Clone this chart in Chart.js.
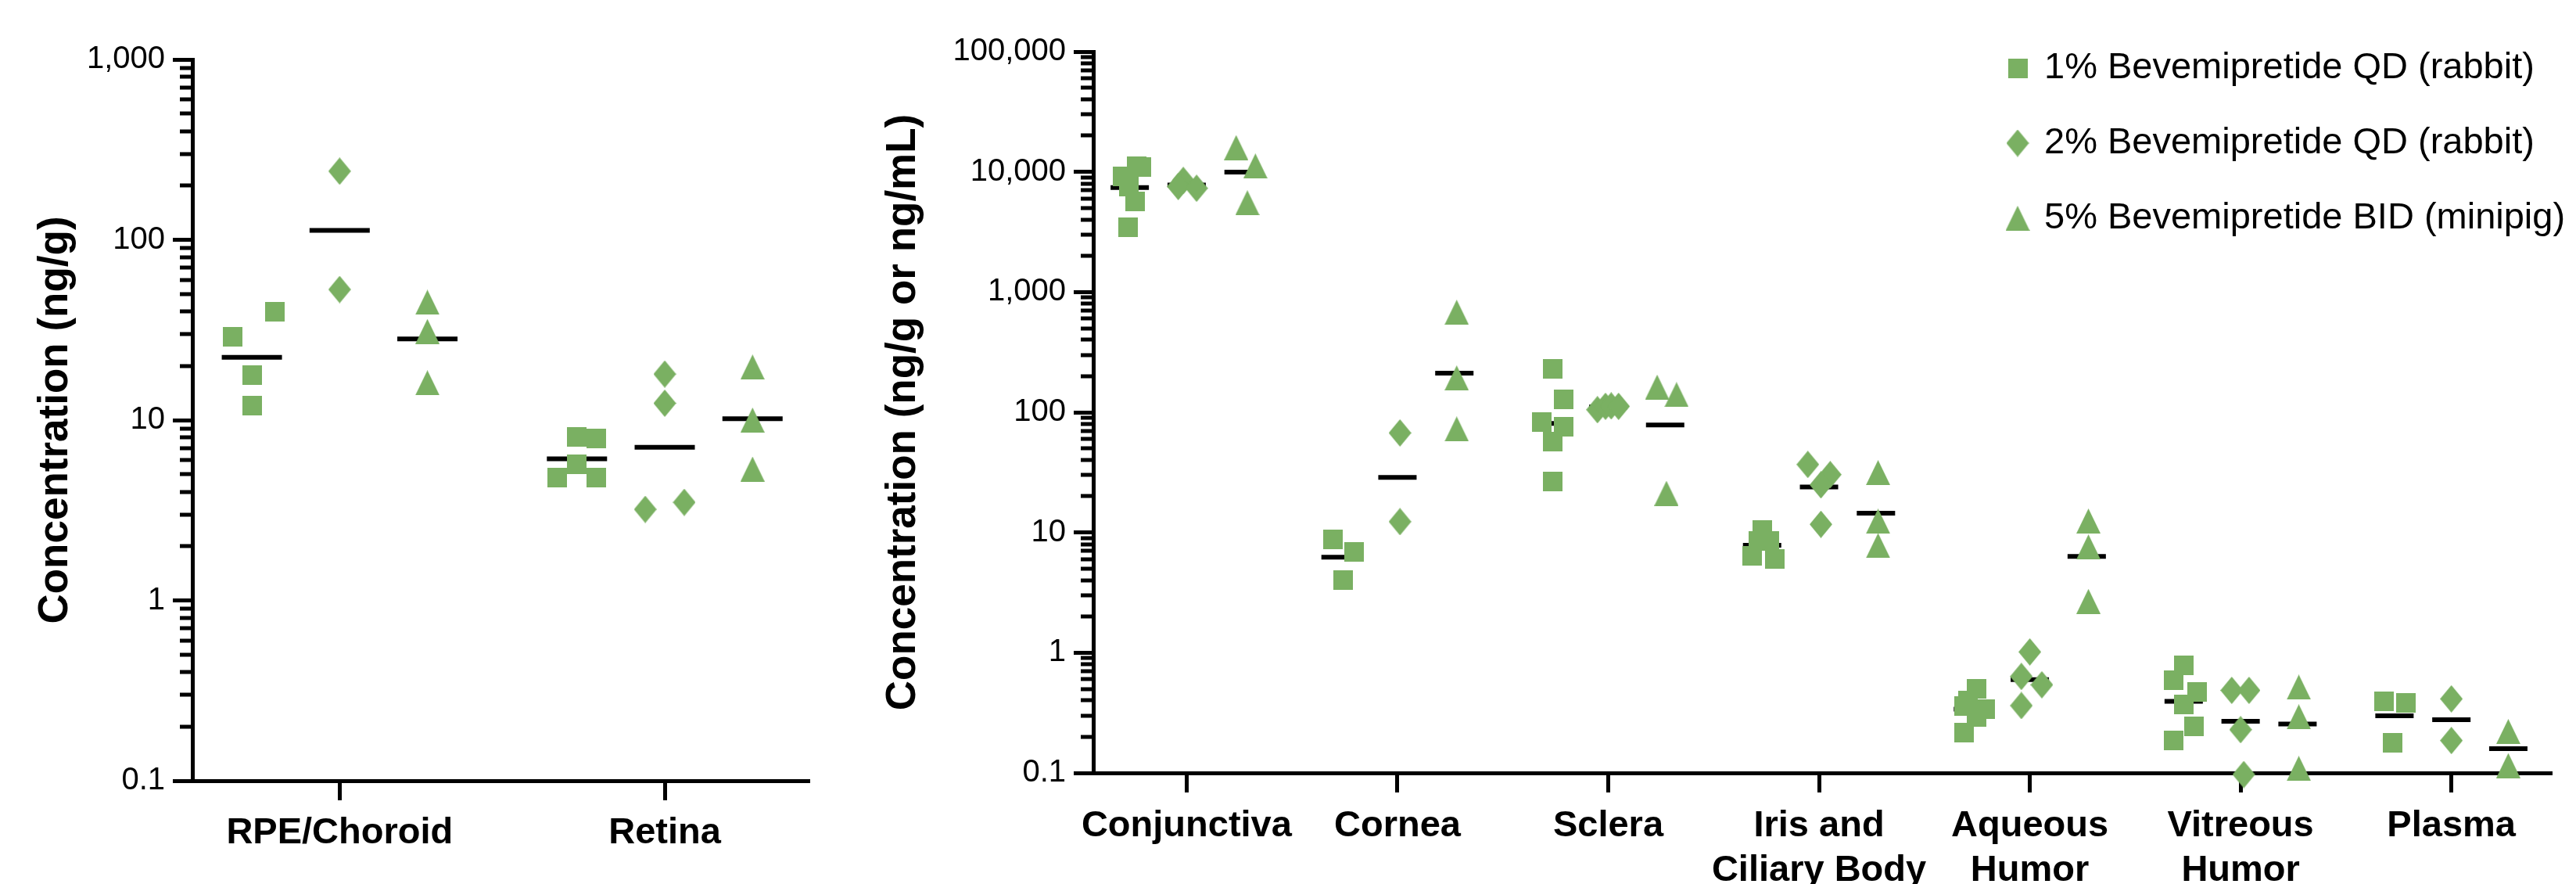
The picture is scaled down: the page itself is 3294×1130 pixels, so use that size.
<!DOCTYPE html>
<html>
<head>
<meta charset="utf-8">
<script src="https://cdn.jsdelivr.net/npm/chart.js@4.4.1/dist/chart.umd.min.js"></script>
<style>
  body { margin: 0; background: #fff; }
  #wrap { position: relative; width: 3294px; height: 1130px; }
  #leftChart { position: absolute; left: 0; top: 0; }
  #rightChart { position: absolute; left: 1100px; top: 0; }
</style>
</head>
<body>
<div id="wrap">
  <canvas id="leftChart" width="1100" height="1130"></canvas>
  <canvas id="rightChart" width="2194" height="1130"></canvas>
</div>
<script>
// dose groups
const groupLabels = ['1% Bevemipretide QD (rabbit)', '2% Bevemipretide QD (rabbit)', '5% Bevemipretide BID (minipig)'];

// left panel (ng/g)
const leftCategories = ['RPE/Choroid', 'Retina'];
const leftYTicks = [0.1, 1, 10, 100, 1000];
const leftSquares   = [[29.1, 39.7, 17.8, 12.0], [8.1, 7.9, 5.7, 4.8, 4.8]];
const leftDiamonds  = [[240, 53], [18.0, 12.4, 3.2, 3.5]];
const leftTriangles = [[45, 31, 16.1], [19.7, 10.0, 5.35]];
// horizontal scatter of the individual animals (category units)
const leftSquaresX   = [[-0.06, 0.07, 0, 0], [0, 0.06, 0, -0.06, 0.06]];
const leftDiamondsX  = [[0, 0], [0, 0, -0.06, 0.06]];
const leftTrianglesX = [[0, 0, 0], [0, 0, 0]];

// right panel (ng/g or ng/mL)
const rightCategories = ['Conjunctiva', 'Cornea', 'Sclera', ['Iris and', 'Ciliary Body'], ['Aqueous', 'Humor'], ['Vitreous', 'Humor'], 'Plasma'];
const rightYTicks = [0.1, 1, 10, 100, 1000, 10000, 100000];
const rightSquares = [
  [11100, 10900, 9140, 7520, 5700, 3440],
  [8.75, 6.9, 4.02],
  [229, 128, 82.8, 75.7, 56.9, 26.5],
  [10.5, 8.49, 8.49, 6.36, 6.06],
  [0.50, 0.40, 0.36, 0.338, 0.294, 0.215],
  [0.782, 0.587, 0.474, 0.373, 0.245, 0.187],
  [0.394, 0.382, 0.177]
];
const rightDiamonds = [
  [8480, 7550, 7300],
  [67.3, 12.3],
  [105, 112, 113, 112],
  [36.8, 30.3, 24.9, 11.7],
  [1.015, 0.634, 0.541, 0.363],
  [0.486, 0.486, 0.229, 0.097],
  [0.413, 0.186]
];
const rightTriangles = [
  [15920, 11190, 5535],
  [679, 193, 72.6],
  [161.8, 140.3, 21.2],
  [31.5, 12.4, 7.78],
  [12.45, 7.59, 2.67],
  [0.517, 0.293, 0.109],
  [0.221, 0.115]
];
const rightSquaresX = [
  [0.032, 0.054, -0.035, -0.003, 0.025, -0.009],
  [-0.037, 0.066, 0.014],
  [0.008, 0.06, -0.044, 0.06, 0.008, 0.008],
  [0, -0.017, 0.034, -0.047, 0.06],
  [0.017, -0.024, -0.042, 0.058, 0.017, -0.042],
  [0, -0.048, 0.062, 0, 0.048, -0.048],
  [-0.051, 0.056, -0.007]
];
const rightDiamondsX = [
  [-0.016, -0.04, 0.047],
  [0.012, 0.012],
  [-0.051, -0.013, 0.014, 0.049],
  [-0.053, 0.053, 0.009, 0.009],
  [0, -0.04, 0.057, -0.04],
  [-0.042, 0.04, 0, 0.015],
  [0, 0]
];
const rightTrianglesX = [
  [-0.035, 0.056, 0.018],
  [0.011, 0.011, 0.011],
  [-0.038, 0.054, 0.006],
  [0.01, 0.01, 0.01],
  [0.008, 0.008, 0.008],
  [0.006, 0.006, 0.006],
  [0, 0]
];

const green = '#7ab062';
const fontFam = '"Liberation Sans", Arial, Helvetica, sans-serif';
const groupOffset = [-0.27, 0, 0.27];

// marker shapes, drawn once and used as pointStyle images
function marker(kind) {
  const c = document.createElement('canvas');
  const w = kind == 'square' ? 25 : kind == 'diamond' ? 29 : 31;
  const h = kind == 'square' ? 25 : kind == 'diamond' ? 35 : 32;
  c.width = w; c.height = h;
  const g = c.getContext('2d');
  g.fillStyle = green;
  g.beginPath();
  if (kind == 'square') g.rect(0, 0, w, h);
  else if (kind == 'diamond') { g.moveTo(w / 2, 0); g.lineTo(w, h / 2); g.lineTo(w / 2, h); g.lineTo(0, h / 2); }
  else { g.moveTo(w / 2, 0); g.lineTo(w, h); g.lineTo(0, h); }
  g.closePath();
  g.fill();
  return c;
}
const markers = [marker('square'), marker('diamond'), marker('triangle')];

const geoMean = (a) => Math.exp(a.reduce((s, v) => s + Math.log(v), 0) / a.length);

function buildDatasets(groups, jitters, lineHalf) {
  const sets = [];
  groups.forEach((byCat, g) => {
    const pts = [];
    byCat.forEach((vals, c) => vals.forEach((v, k) => {
      pts.push({ x: c + groupOffset[g] + jitters[g][c][k], y: v });
    }));
    sets.push({ label: groupLabels[g], data: pts, pointStyle: markers[g], pointRadius: 18, showLine: false, clip: false, order: 0 });
  });
  // geometric mean bars
  groups.forEach((byCat, g) => {
    sets.push({
      label: 'mean',
      data: byCat.map((vals, c) => ({ x: c + groupOffset[g], y: geoMean(vals) })),
      pointStyle: 'line', pointRadius: lineHalf, pointBorderWidth: 6,
      pointBorderColor: '#000', pointBackgroundColor: '#000',
      showLine: false, clip: false, order: 1
    });
  });
  return sets;
}

// short minor ticks on the log axis
const minorTicks = {
  id: 'minorTicks',
  afterDraw(chart) {
    const y = chart.scales.y;
    const x0 = chart.chartArea.left;
    const ctx = chart.ctx;
    ctx.save();
    ctx.strokeStyle = '#000';
    ctx.lineWidth = 5;
    ctx.beginPath();
    const e0 = Math.round(Math.log10(y.min)), e1 = Math.round(Math.log10(y.max));
    for (let e = e0; e < e1; e++) {
      for (let k = 2; k < 10; k++) {
        const p = Math.round(y.getPixelForValue(k * Math.pow(10, e)));
        ctx.moveTo(x0 - 16, p);
        ctx.lineTo(x0, p);
      }
    }
    ctx.stroke();
    ctx.restore();
  }
};

// legend with the same marker shapes
const doseLegend = {
  id: 'doseLegend',
  afterDraw(chart, args, opts) {
    if (!opts.show) return;
    const ctx = chart.ctx;
    ctx.save();
    ctx.font = '47px ' + fontFam;
    ctx.fillStyle = '#000';
    ctx.textBaseline = 'middle';
    ctx.textAlign = 'left';
    groupLabels.forEach((t, i) => {
      const y = opts.y + i * opts.gap;
      const m = markers[i];
      ctx.drawImage(m, opts.x - m.width / 2, y - m.height / 2);
      ctx.fillText(t, opts.x + 34, y);
    });
    ctx.restore();
  }
};

function makeOptions(cfg) {
  return {
    responsive: false,
    animation: false,
    events: [],
    layout: { padding: cfg.padding },
    plugins: {
      legend: { display: false },
      tooltip: { enabled: false },
      doseLegend: cfg.legend
    },
    scales: {
      x: {
        type: 'linear',
        bounds: 'data',
        min: cfg.xMin, max: cfg.xMax,
        afterBuildTicks: (s) => { s.ticks = cfg.categories.map((c, i) => ({ value: i })); },
        afterFit: (s) => { s.height = cfg.xHeight; },
        ticks: {
          autoSkip: false, maxRotation: 0, padding: cfg.xPad, color: '#000',
          font: { family: fontFam, size: 47, weight: 'bold' },
          callback: (v) => cfg.categories[v]
        },
        grid: { drawOnChartArea: false, tickLength: 25, tickWidth: 5, tickColor: '#000' },
        border: { display: true, color: '#000', width: 5 }
      },
      y: {
        type: 'logarithmic',
        min: cfg.yTicks[0], max: cfg.yTicks[cfg.yTicks.length - 1],
        afterBuildTicks: (s) => { s.ticks = cfg.yTicks.map((v) => ({ value: v, major: true })); },
        afterFit: (s) => { s.width = cfg.yWidth; },
        ticks: {
          autoSkip: false, padding: 10, color: '#000',
          font: { family: fontFam, size: 40 },
          callback: (v) => Number(v).toLocaleString('en-US')
        },
        grid: { drawOnChartArea: false, tickLength: 25, tickWidth: 5, tickColor: '#000' },
        border: { display: true, color: '#000', width: 5 },
        title: {
          display: true, text: cfg.yTitle, color: '#000',
          font: { family: fontFam, size: 53, weight: 'bold' },
          padding: { top: cfg.titlePad, bottom: 0 }
        }
      }
    }
  };
}

new Chart(document.getElementById('leftChart').getContext('2d'), {
  type: 'scatter',
  data: {
    datasets: buildDatasets([leftSquares, leftDiamonds, leftTriangles],
                            [leftSquaresX, leftDiamondsX, leftTrianglesX], 38.5)
  },
  options: makeOptions({
    categories: leftCategories, yTicks: leftYTicks,
    xMin: -0.453, xMax: 1.445, xHeight: 132, xPad: 14, yWidth: 246,
    padding: { left: 0, right: 65, top: 76, bottom: 0 },
    yTitle: 'Concentration (ng/g)', titlePad: 40,
    legend: { show: false }
  }),
  plugins: [minorTicks, doseLegend]
});

new Chart(document.getElementById('rightChart').getContext('2d'), {
  type: 'scatter',
  data: {
    datasets: buildDatasets([rightSquares, rightDiamonds, rightTriangles],
                            [rightSquaresX, rightDiamondsX, rightTrianglesX], 24.5)
  },
  options: makeOptions({
    categories: rightCategories, yTicks: rightYTicks,
    xMin: -0.443, xMax: 6.478, xHeight: 142, xPad: 15, yWidth: 298,
    padding: { left: 0, right: 22, top: 66, bottom: 0 },
    yTitle: 'Concentration (ng/g or ng/mL)', titlePad: 24,
    legend: { show: true, x: 1480, y: 87, gap: 96 }
  }),
  plugins: [minorTicks, doseLegend]
});
</script>
</body>
</html>
